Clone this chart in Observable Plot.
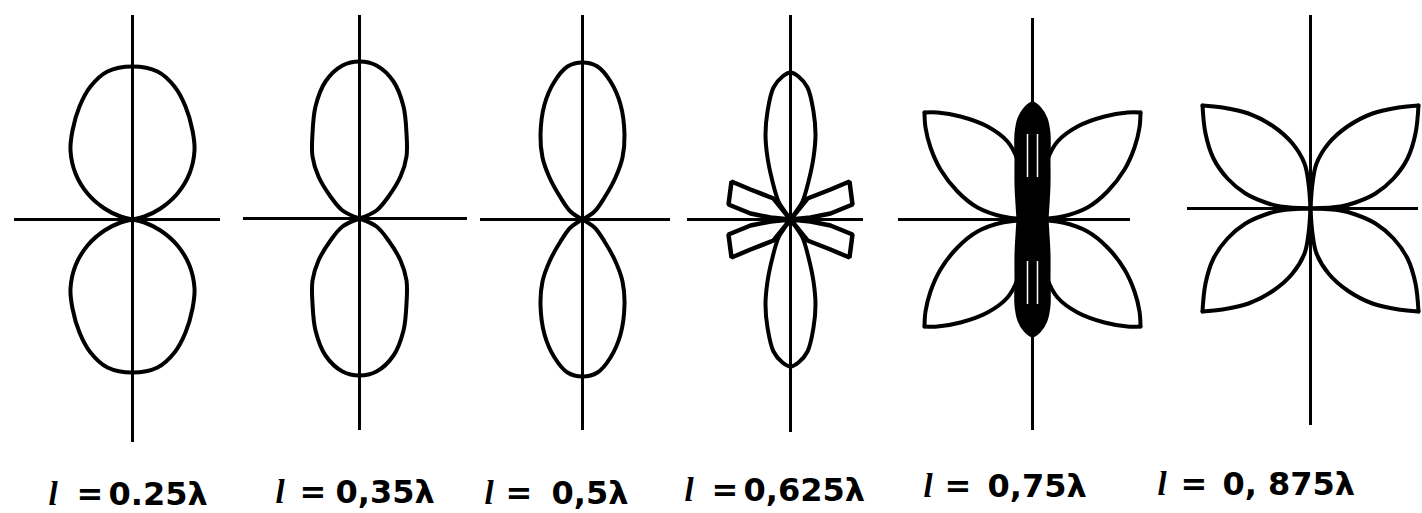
<!DOCTYPE html>
<html><head><meta charset="utf-8">
<script src="https://cdn.jsdelivr.net/npm/d3@7"></script>
<script src="https://cdn.jsdelivr.net/npm/@observablehq/plot@0.6"></script>
<style>html,body{margin:0;padding:0;background:#fff}</style>
</head><body><div id="chart"></div>
<script>
// ---- DATA (offsets dx right, dy up, in reference units) ----
const lengthLabels = ["0.25λ", "0,35λ", "0,5λ", "0,625λ", "0,75λ", "0, 875λ"];
const lengthSymbol = "l";
const equalsSign = "=";

// right half of the main (vertical) lobe, from its tip down to the origin
const mainLobe025 = [[0,153],[25,148],[42,133],[53,113],[60,89],[62,69],[57,46],[45,26],[28,11],[12,3],[0,0]];
const mainLobe035 = [[0,157],[17,153],[34,137],[44,112],[47,85],[47,62],[41,42],[29,22],[17,8],[0,0]];
const mainLobe050 = [[0,157],[15,153],[28,138],[38,115],[42,85],[40,62],[33,42],[22,22],[12,8],[0,0]];
const mainLobe0625 = [[0,147],[8,143],[17,132],[23,108],[25,85],[23,62],[18,38],[12,18],[5,7],[0,0]];
const mainLobe075 = [[0,116],[7,111],[13,101],[16,86],[16,60],[16,35],[15,15],[14,0]];

// upper-right side lobe of l = 0.625λ (closed outline)
const sideLobe0625 = [[0,0],[17,21],[40,30],[59,38],[62,15],[40,6],[20,2],[0,0]];

// upper-right oblique lobes: upper edge and lower edge, origin -> tip
const obliqueUpper075 = [[0,0],[8,32],[15,60],[25,78],[45,93],[72,103],[95,107],[108,107]];
const obliqueLower075 = [[0,0],[30,3],[55,12],[75,28],[92,50],[102,72],[107,92],[108,107]];
const obliqueUpper0875 = [[0,0],[2,25],[6,45],[18,65],[37,82],[62,95],[88,101],[108,103]];
const obliqueLower0875 = [[0,0],[30,2],[45,6],[65,15],[83,30],[97,50],[105,75],[108,103]];

// ---- LAYOUT (pixel positions of each panel) ----
const centers = [[132,219],[359,218],[582,219],[790,219],[1032,219],[1310,208]];
const vAxis = [[15,442],[15,430],[15,430],[15,432],[18,430],[15,425]];
const hAxis = [[14,220],[243,467],[480,670],[687,863],[898,1130],[1187,1418]];
const labelSymbolX = [48,275,484,684,923,1157];
const labelEqX = [76,299,505,711,944,1180];
const labelValueX = [108,335,551,743,987,1222];
const labelY = [494,492,493,490,486,484];

// ---- build geometry ----
const panels = centers.map(([cx, cy], i) => ({
  i, cx, cy, y1: vAxis[i][0], y2: vAxis[i][1], x1: hAxis[i][0], x2: hAxis[i][1]
}));

const smooth = [], straight = [], filled = [];
let uid = 0;
function pushPath(target, panel, pts, sx, sy) {
  const id = uid++;
  const [cx, cy] = centers[panel];
  pts.forEach(([dx, dy], k) => target.push({id, k, x: cx + sx * dx, y: cy - sy * dy}));
}
function mainLobes(target, panel, half) {
  for (const sy of [1, -1]) {
    const path = [...half.slice().reverse(), ...half.slice(1).map(([dx, dy]) => [-dx, dy])];
    pushPath(target, panel, path, 1, sy);
  }
}
function quad(target, panel, pts) {
  for (const sx of [1, -1]) for (const sy of [1, -1]) pushPath(target, panel, pts, sx, sy);
}

mainLobes(smooth, 0, mainLobe025);
mainLobes(smooth, 1, mainLobe035);
mainLobes(smooth, 2, mainLobe050);
mainLobes(smooth, 3, mainLobe0625);
quad(straight, 3, sideLobe0625);
mainLobes(filled, 4, mainLobe075);
quad(smooth, 4, obliqueUpper075);
quad(smooth, 4, obliqueLower075);
quad(smooth, 5, obliqueUpper0875);
quad(smooth, 5, obliqueLower0875);

// thin light slits inside the dense central lobe of l = 0.75λ
const slits = [];
for (const sx of [1, -1]) for (const sy of [1, -1]) {
  slits.push({x: centers[4][0] + sx * 5, y1: centers[4][1] - sy * 42, y2: centers[4][1] - sy * 85});
}

const labels = lengthLabels.map((t, i) => ({
  sym: lengthSymbol, eq: equalsSign, text: t,
  xs: labelSymbolX[i], xe: labelEqX[i], xv: labelValueX[i], y: labelY[i]
}));

const chart = Plot.plot({
  width: 1422, height: 513, margin: 0,
  x: {domain: [0, 1422], range: [0, 1422], axis: null},
  y: {domain: [0, 513], range: [0, 513], axis: null},
  style: {background: "#fff"},
  marks: [
    Plot.ruleX(panels, {x: "cx", y1: "y1", y2: "y2", stroke: "#000", strokeWidth: 3}),
    Plot.ruleY(panels, {y: "cy", x1: "x1", x2: "x2", stroke: "#000", strokeWidth: 3}),
    Plot.line(filled, {x: "x", y: "y", z: "id", curve: "catmull-rom", fill: "#000", stroke: "#000", strokeWidth: 4}),
    Plot.ruleX(slits, {x: "x", y1: "y1", y2: "y2", stroke: "#fff", strokeWidth: 1.5}),
    Plot.line(smooth, {x: "x", y: "y", z: "id", curve: "catmull-rom", stroke: "#000", strokeWidth: 4, strokeLinejoin: "round"}),
    Plot.line(straight, {x: "x", y: "y", z: "id", curve: "linear", stroke: "#000", strokeWidth: 4.5, strokeLinejoin: "miter"}),
    Plot.text(labels, {x: "xs", y: "y", text: "sym", textAnchor: "start", fontFamily: "Liberation Serif", fontStyle: "italic", fontWeight: "bold", fontSize: 33, fill: "#000"}),
    Plot.text(labels, {x: "xe", y: "y", text: "eq", textAnchor: "start", fontFamily: "DejaVu Sans", fontWeight: "bold", fontSize: 32, fill: "#000"}),
    Plot.text(labels, {x: "xv", y: "y", text: "text", textAnchor: "start", fontFamily: "DejaVu Sans", fontWeight: "bold", fontSize: 32, fill: "#000"})
  ]
});
document.getElementById("chart").appendChild(chart);
</script>
</body></html>
